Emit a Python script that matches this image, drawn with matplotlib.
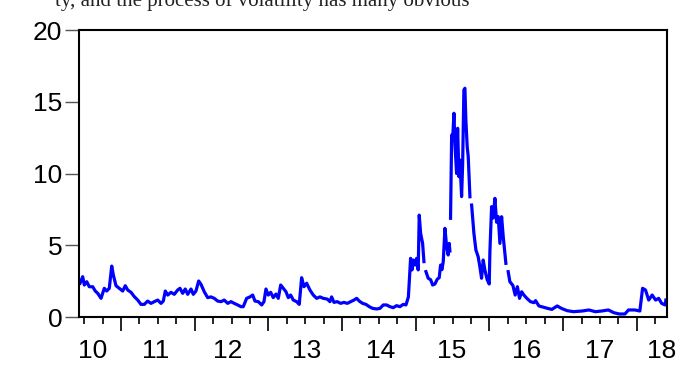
import numpy as np
import matplotlib.pyplot as plt
from matplotlib.ticker import FixedLocator, NullFormatter

# --- DATA (decimal years, volatility) ---
years = [
    2010.444, 2010.480, 2010.502, 2010.535, 2010.570, 2010.616, 2010.651, 2010.684,
    2010.729, 2010.773, 2010.806, 2010.841, 2010.874, 2010.896, 2010.932, 2010.977,
    2011.023, 2011.058, 2011.091, 2011.136, 2011.180, 2011.227, 2011.271, 2011.316,
    2011.362, 2011.407, 2011.452, 2011.498, 2011.543, 2011.574, 2011.601, 2011.634,
    2011.678, 2011.723, 2011.769, 2011.800, 2011.837, 2011.872, 2011.905, 2011.950,
    2011.981, 2012.017, 2012.054, 2012.085, 2012.130, 2012.176, 2012.221, 2012.266,
    2012.312, 2012.357, 2012.401, 2012.448, 2012.492, 2012.537, 2012.583, 2012.628,
    2012.659, 2012.705, 2012.750, 2012.787, 2012.818, 2012.863, 2012.909, 2012.940,
    2012.967, 2012.998, 2013.031, 2013.066, 2013.103, 2013.134, 2013.167, 2013.202,
    2013.239, 2013.270, 2013.302, 2013.338, 2013.384, 2013.419, 2013.451, 2013.483,
    2013.519, 2013.564, 2013.609, 2013.655, 2013.700, 2013.745, 2013.799, 2013.835,
    2013.858, 2013.890, 2013.934, 2013.981, 2014.025, 2014.070, 2014.116, 2014.161,
    2014.198, 2014.233, 2014.279, 2014.324, 2014.369, 2014.415, 2014.469, 2014.514,
    2014.559, 2014.605, 2014.649, 2014.694, 2014.740, 2014.785, 2014.830, 2014.867,
    2014.900, 2014.930, 2014.948, 2014.966, 2014.989, 2015.012, 2015.033, 2015.047,
    2015.066, 2015.093, 2015.111, 2015.124, 2015.138, 2015.169, 2015.202, 2015.229,
    2015.260, 2015.291, 2015.318, 2015.337, 2015.355, 2015.373, 2015.396, 2015.419,
    2015.440, 2015.454, 2015.463, 2015.467, 2015.472, 2015.487, 2015.500, 2015.518,
    2015.531, 2015.554, 2015.568, 2015.586, 2015.599, 2015.622, 2015.636, 2015.653,
    2015.667, 2015.680, 2015.698, 2015.712, 2015.735, 2015.746, 2015.758, 2015.789,
    2015.816, 2015.847, 2015.870, 2015.893, 2015.915, 2015.938, 2015.969, 2015.997,
    2016.006, 2016.029, 2016.051, 2016.074, 2016.097, 2016.119, 2016.142, 2016.165,
    2016.187, 2016.223, 2016.238, 2016.254, 2016.277, 2016.318, 2016.349, 2016.379,
    2016.408, 2016.437, 2016.467, 2016.508, 2016.556, 2016.603, 2016.626, 2016.671,
    2016.732, 2016.790, 2016.847, 2016.919, 2016.977, 2017.055, 2017.143, 2017.261,
    2017.349, 2017.437, 2017.526, 2017.614, 2017.687, 2017.763, 2017.838, 2017.887,
    2017.973, 2018.041, 2018.078, 2018.118, 2018.161, 2018.208, 2018.255, 2018.296,
    2018.337, 2018.384, 2018.394,
]
vol = [
    2.35, 2.81, 2.23, 2.46, 2.11, 2.11, 1.81, 1.65,
    1.30, 2.00, 1.81, 2.00, 3.55, 2.93, 2.18, 2.00,
    1.81, 2.18, 1.88, 1.72, 1.42, 1.18, 0.88, 0.88,
    1.11, 0.95, 1.07, 1.18, 0.95, 1.11, 1.81, 1.53,
    1.72, 1.58, 1.88, 2.00, 1.65, 1.95, 1.58, 1.95,
    1.58, 1.81, 2.51, 2.28, 1.76, 1.35, 1.40, 1.30,
    1.11, 1.07, 1.18, 0.95, 1.07, 0.95, 0.84, 0.72,
    0.72, 1.30, 1.40, 1.53, 1.11, 1.07, 0.84, 1.07,
    1.95, 1.53, 1.72, 1.35, 1.60, 1.30, 2.23, 2.00,
    1.76, 1.35, 1.53, 1.18, 1.07, 0.88, 2.74, 2.11,
    2.35, 1.88, 1.53, 1.30, 1.40, 1.30, 1.25, 1.07,
    1.40, 1.02, 1.07, 0.95, 1.02, 0.95, 1.07, 1.18,
    1.30, 1.11, 0.95, 0.88, 0.72, 0.60, 0.56, 0.60,
    0.84, 0.84, 0.72, 0.65, 0.79, 0.72, 0.88, 0.84,
    1.40, 4.09, 3.28, 3.97, 3.62, 4.09, 3.28, 7.10,
    5.83, 5.13, 3.86, np.nan, 3.16, 2.70, 2.60, 2.23,
    2.30, 2.63, 2.74, 3.62, 3.30, 3.86, 6.18, 4.90,
    4.32, 5.13, 4.60, np.nan, 6.88, 12.68, 12.30, 14.20,
    12.10, 10.00, 13.15, 9.78, 10.94, 8.39, 10.60, 15.82,
    15.94, 13.73, 11.87, 11.17, 8.38, np.nan, 7.80, 5.83,
    4.67, 4.20, 3.50, 2.70, 3.97, 3.28, 2.60, 2.30,
    4.55, 7.69, 6.90, 8.27, 6.60, 7.00, 5.13, 6.99,
    5.60, 3.74, np.nan, 3.16, 2.46, 2.20, 1.53, 2.11,
    1.30, 1.76, 1.53, 1.30, 1.07, 1.00, 1.14, 0.77,
    0.68, 0.60, 0.53, 0.77, 0.60, 0.44, 0.37, 0.42,
    0.49, 0.37, 0.42, 0.49, 0.30, 0.21, 0.21, 0.49,
    0.49, 0.42, 2.00, 1.88, 1.18, 1.53, 1.18, 1.30,
    0.95, 0.84, 1.18,
]

year_edges = [2011, 2012, 2013, 2014, 2015, 2016, 2017, 2018]
label_pos = [2010.62, 2011.47, 2012.45, 2013.52, 2014.52, 2015.49, 2016.50, 2017.50, 2018.33]
year_labels = ["10", "11", "12", "13", "14", "15", "16", "17", "18"]
y_ticks = [0, 5, 10, 15, 20]

plt.rcParams["font.family"] = ["Liberation Sans", "DejaVu Sans"]

fig = plt.figure(figsize=(6.84, 3.65), dpi=100)
ax = fig.add_axes([0.1155, 0.1315, 0.8595, 0.7863])

ax.plot(years, vol, color="#0000FF", linewidth=2.3)

ax.set_xlim(2010.43, 2018.408)
ax.set_ylim(0, 20)

# y axis
ax.set_yticks(y_ticks)
ax.set_yticklabels([str(v) for v in y_ticks], fontsize=19)
ax.tick_params(axis="y", direction="out", length=10, width=1.0, color="#555555", pad=2)

# x axis: year boundaries (long) + quarters (short), labels centred in each year
quarters = [y + q for y in range(2010, 2019) for q in (0.25, 0.5, 0.75, 0.0)]
quarters = [q for q in quarters if 2010.43 < q < 2018.408 and q not in year_edges]
ax.xaxis.set_major_locator(FixedLocator(year_edges))
ax.xaxis.set_major_formatter(NullFormatter())
ax.xaxis.set_minor_locator(FixedLocator(quarters))
ax.tick_params(axis="x", which="major", direction="out", length=10, width=1.2, color="black")
ax.tick_params(axis="x", which="minor", direction="out", length=5, width=1.2, color="black")

trans = ax.get_xaxis_transform()
for pos, lab in zip(label_pos, year_labels):
    ax.text(pos, -0.075, lab, transform=trans, ha="center", va="top", fontsize=19, clip_on=False)

for sp in ax.spines.values():
    sp.set_linewidth(1.5)
    sp.set_color("black")

# cropped line of body text from the surrounding document
fig.text(0.08, 0.984, "ty, and the process of volatility has many obvious",
         family=["Liberation Serif", "DejaVu Serif"], fontsize=15, va="baseline", ha="left",
         color="#222222")

fig.savefig("out.png", dpi=100)
